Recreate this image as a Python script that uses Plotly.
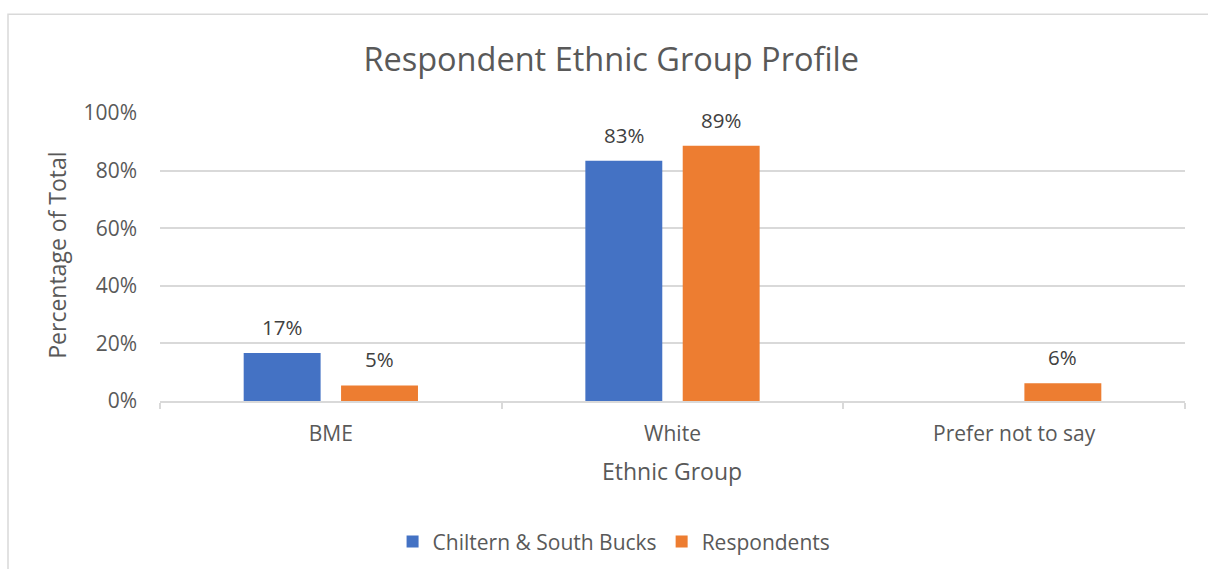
import plotly.graph_objects as go

categories = ["BME", "White", "Prefer not to say"]
series_names = ["Chiltern & South Bucks", "Respondents"]
chiltern_values = [0.167, 0.834, None]
respondent_values = [0.054, 0.886, 0.062]
series_colors = ["#4472C4", "#ED7D31"]
y_tick_values = [0, 0.2, 0.4, 0.6, 0.8, 1.0]
y_tick_labels = ["0%", "20%", "40%", "60%", "80%", "100%"]

FONT = "Open Sans"
TEXT = "#595959"
LABEL = "#404040"
GRID = "#D9D9D9"

fig = go.Figure()
all_values = [chiltern_values, respondent_values]
for name, vals, col in zip(series_names, all_values, series_colors):
    fig.add_trace(go.Bar(x=categories, y=vals, name=name, marker_color=col,
                         marker_line_width=0))

# data labels above bars
shifts = [-48.7, 48.7]
annotations = []
for vals, sh in zip(all_values, shifts):
    for c, v in zip(categories, vals):
        if v is None:
            continue
        annotations.append(dict(x=c, y=v, xref="x", yref="y", text=f"{round(v*100)}%",
                                showarrow=False, xshift=sh, yanchor="bottom", yshift=10,
                                font=dict(family=FONT, size=20.5, color=LABEL)))

annotations.append(dict(x=0.4995, y=-0.244, xref="paper", yref="paper", text="Ethnic Group",
                        showarrow=False, xanchor="center", yanchor="middle",
                        font=dict(family=FONT, size=23, color=TEXT)))
annotations.append(dict(x=-0.1, y=0.506, xref="paper", yref="paper", text="Percentage of Total",
                        showarrow=False, xanchor="center", yanchor="middle", textangle=-90,
                        font=dict(family=FONT, size=23, color=TEXT)))

fig.update_layout(
    width=1208, height=569,
    margin=dict(l=160, r=23, t=113.3, b=168, autoexpand=False),
    paper_bgcolor="white", plot_bgcolor="white",
    title=dict(text="Respondent Ethnic Group Profile", x=0.506, y=0.8946,
               xanchor="center", yanchor="middle",
               font=dict(family=FONT, size=32.5, color=TEXT)),
    barmode="group", bargap=0.43, bargroupgap=0.21,
    showlegend=True,
    legend=dict(orientation="h", x=0.443, y=-0.489, xanchor="center", yanchor="middle",
                font=dict(family=FONT, size=21, color=TEXT), itemwidth=30,
                traceorder="normal"),
    annotations=annotations,
    shapes=[dict(type="rect", xref="paper", yref="paper", x0=-0.1483, x1=1.05,
                 y0=-0.65, y1=1.3427, line=dict(color=GRID, width=1.5), layer="below")],
    font=dict(family=FONT, color=TEXT),
)
fig.update_xaxes(showline=True, linecolor=GRID, linewidth=1.5, ticks="outside",
                 tickson="boundaries", ticklen=6, tickcolor=GRID, tickwidth=1.5,
                 tickfont=dict(family=FONT, size=21, color=TEXT), ticklabelstandoff=13,
                 showgrid=False)
fig.update_yaxes(range=[0, 1], tickvals=y_tick_values, ticktext=y_tick_labels,
                 showgrid=True, gridcolor=GRID, gridwidth=1.5, zeroline=False,
                 showline=False, ticks="", ticklabelstandoff=22,
                 tickfont=dict(family=FONT, size=21, color=TEXT))

fig.write_html("out.html", config={"displayModeBar": False},
               post_script="document.body.style.margin='0';document.body.style.overflow='hidden';")
